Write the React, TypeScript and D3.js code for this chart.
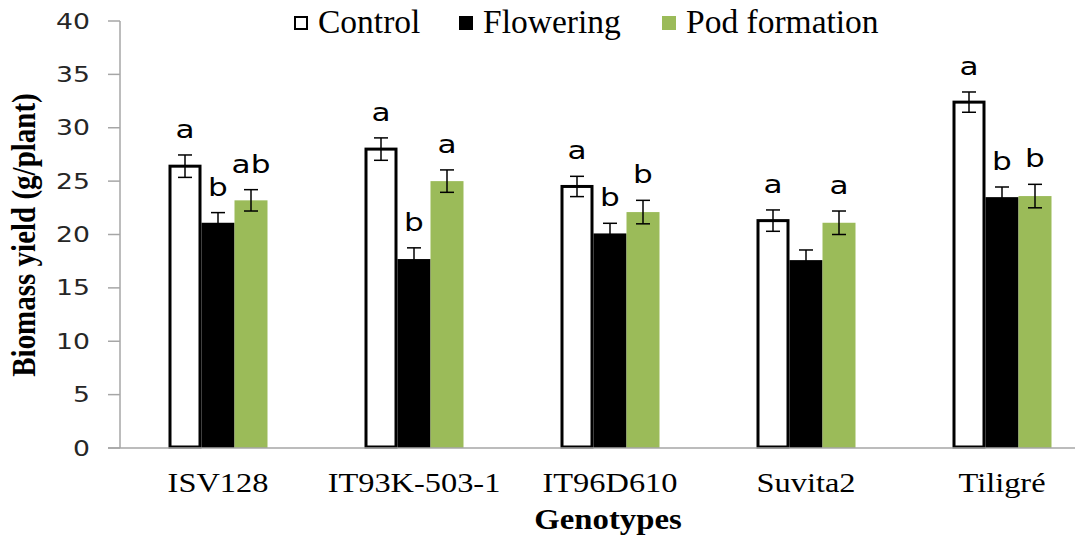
import React from "react";
import * as d3 from "d3";

const categories = ["ISV128", "IT93K-503-1", "IT96D610", "Suvita2", "Tiligré"];
const seriesNames = ["Control", "Flowering", "Pod formation"];
const controlValues = [26.4, 28.0, 24.5, 21.3, 32.4];
const floweringValues = [21.1, 17.7, 20.1, 17.6, 23.5];
const podValues = [23.2, 25.0, 22.1, 21.1, 23.6];
const controlErr = [1.05, 1.05, 0.95, 1.0, 0.95];
const floweringErr = [0.95, 1.05, 0.95, 0.95, 0.95];
const podErr = [1.0, 1.05, 1.1, 1.1, 1.1];
const controlLetters = ["a", "a", "a", "a", "a"];
const floweringLetters = ["b", "b", "b", "", "b"];
const podLetters = ["ab", "a", "b", "a", "b"];
const yTicks = [0, 5, 10, 15, 20, 25, 30, 35, 40];

const seriesValues = [controlValues, floweringValues, podValues];
const seriesErr = [controlErr, floweringErr, podErr];
const seriesLetters = [controlLetters, floweringLetters, podLetters];
const fills = ["#ffffff", "#000000", "#9BBB59"];

export default function App() {
  const W = 1075, H = 540;
  const x0 = d3.scaleBand<string>().domain(categories).range([120, 1100]).padding(0);
  const groupW = 99;
  const x1 = d3.scaleBand<string>().domain(seriesNames).range([0, groupW]).padding(0);
  const y = d3.scaleLinear().domain([0, 40]).range([448, 21]);
  const off = (x0.bandwidth() - groupW) / 2;
  const legendX = [294, 459, 662];

  return (
    <svg width={W} height={H} style={{ position: "absolute", left: 0, top: 0, display: "block", background: "#fff" }}>
      <rect x={0} y={0} width={W} height={H} fill="#fff" />
      {/* y axis */}
      <line x1={120} x2={120} y1={y(40)} y2={y(0)} stroke="#a6a6a6" strokeWidth={1.5} />
      {yTicks.map((t) => (
        <g key={t}>
          <line x1={108} x2={120} y1={y(t)} y2={y(t)} stroke="#a6a6a6" strokeWidth={1.5} />
          <text
            transform={`translate(90,${y(t) + 7.5}) scale(1.3,1)`}
            textAnchor="end"
            fontFamily="DejaVu Sans, Verdana, sans-serif"
            fontSize={20.5}
            fill="#262626"
          >
            {t}
          </text>
        </g>
      ))}
      {/* bars */}
      {categories.map((c, i) => (
        <g key={c}>
          {seriesNames.map((s, j) => {
            const v = seriesValues[j][i];
            const bx = (x0(c) as number) + off + (x1(s) as number);
            const bw = x1.bandwidth();
            return j === 0 ? (
              <rect key={s} x={bx + 1.5} y={y(v)} width={bw - 3} height={y(0) - y(v) - 1} fill={fills[j]} stroke="#000" strokeWidth={3} />
            ) : (
              <rect key={s} x={bx} y={y(v)} width={bw} height={y(0) - y(v)} fill={fills[j]} />
            );
          })}
        </g>
      ))}
      {/* x axis */}
      <line x1={108} x2={W} y1={y(0)} y2={y(0)} stroke="#a6a6a6" strokeWidth={1.5} />
      {/* error bars and letters */}
      {categories.map((c, i) => (
        <g key={c + "e"}>
          {seriesNames.map((s, j) => {
            const v = seriesValues[j][i];
            const e = seriesErr[j][i];
            const cx = (x0(c) as number) + off + (x1(s) as number) + x1.bandwidth() / 2;
            const letter = seriesLetters[j][i];
            return (
              <g key={s}>
                <line x1={cx} x2={cx} y1={y(v + e)} y2={y(v - e)} stroke="#000" strokeWidth={1.5} />
                <line x1={cx - 7} x2={cx + 7} y1={y(v + e)} y2={y(v + e)} stroke="#000" strokeWidth={1.5} />
                <line x1={cx - 7} x2={cx + 7} y1={y(v - e)} y2={y(v - e)} stroke="#000" strokeWidth={1.5} />
                {letter && (
                  <text
                    transform={`translate(${cx},${y(v + e) - 17}) scale(1.3,1)`}
                    textAnchor="middle"
                    fontFamily="DejaVu Sans, Verdana, sans-serif"
                    fontSize={24}
                    fill="#000"
                  >
                    {letter}
                  </text>
                )}
              </g>
            );
          })}
        </g>
      ))}
      {/* category labels */}
      {categories.map((c) => (
        <text
          key={c + "l"}
          transform={`translate(${(x0(c) as number) + x0.bandwidth() / 2},492) scale(1.2,1)`}
          textAnchor="middle"
          fontFamily="Liberation Serif, Times New Roman, serif"
          fontSize={27}
          fill="#000"
        >
          {c}
        </text>
      ))}
      <text
        transform={`translate(608,529) scale(1.13,1)`}
        textAnchor="middle"
        fontFamily="Liberation Serif, Times New Roman, serif"
        fontWeight="bold"
        fontSize={29}
        fill="#000"
      >
        Genotypes
      </text>
      <text
        transform={`translate(35,235) scale(1.13,1) rotate(-90)`}
        textAnchor="middle"
        fontFamily="Liberation Serif, Times New Roman, serif"
        fontWeight="bold"
        fontSize={29}
        fill="#000"
      >
        Biomass yield (g/plant)
      </text>
      {/* legend */}
      {seriesNames.map((s, j) => {
        const lx = legendX[j];
        return (
          <g key={s + "lg"}>
            <rect
              x={j === 0 ? lx + 1 : lx}
              y={j === 0 ? 17 : 16}
              width={j === 0 ? 12 : 14}
              height={j === 0 ? 12 : 14}
              fill={fills[j]}
              stroke={j === 0 ? "#000" : "none"}
              strokeWidth={2}
            />
            <text x={lx + 24} y={33} fontFamily="Liberation Serif, Times New Roman, serif" fontSize={33.5} fill="#000">
              {s}
            </text>
          </g>
        );
      })}
    </svg>
  );
}
